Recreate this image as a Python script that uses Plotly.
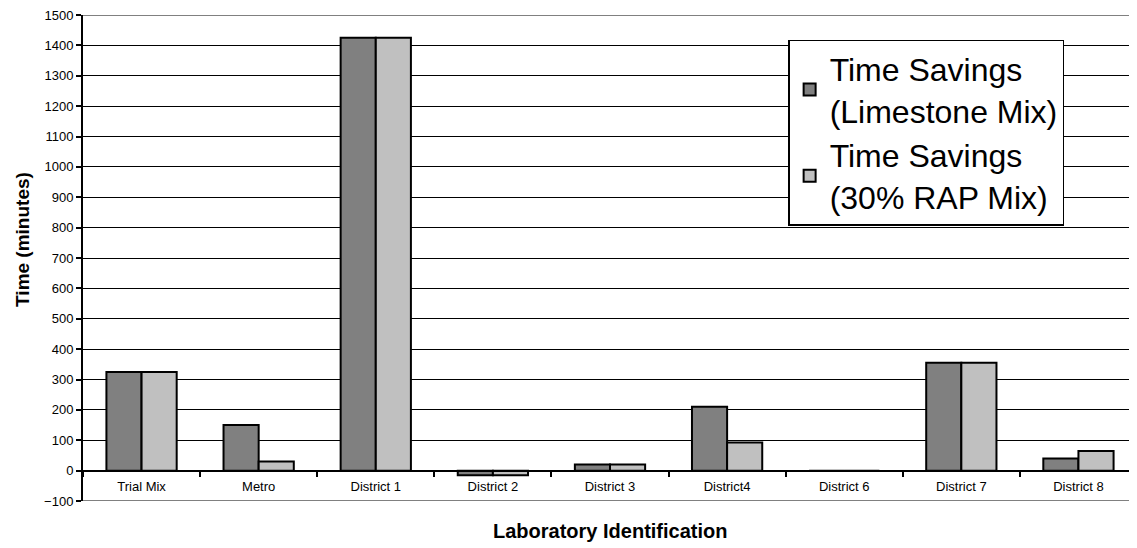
import plotly.graph_objects as go

categories = ["Trial Mix", "Metro", "District 1", "District 2", "District 3",
              "District4", "District 6", "District 7", "District 8"]
limestone = [325, 150, 1425, -15, 20, 210, 0, 355, 40]
rap30 = [325, 30, 1425, -15, 20, 93, 0, 355, 65]
y_ticks = list(range(-100, 1501, 100))

FONT = "Arial, Liberation Sans, sans-serif"

fig = go.Figure()
fig.add_trace(go.Bar(
    x=categories, y=limestone,
    name="Time Savings<br>(Limestone Mix)",
    marker=dict(color="#808080", line=dict(color="black", width=2)),
))
fig.add_trace(go.Bar(
    x=categories, y=rap30,
    name="Time Savings<br>(30% RAP Mix)",
    marker=dict(color="#C0C0C0", line=dict(color="black", width=2)),
))

fig.update_layout(
    width=1129, height=540,
    margin=dict(l=75, r=0, t=7, b=47),
    paper_bgcolor="white", plot_bgcolor="white",
    font=dict(family=FONT, color="black", size=13),
    barmode="group", bargap=0.40, bargroupgap=0,
    showlegend=True,
    legend=dict(
        x=0.669, y=0.9486, xanchor="left", yanchor="top",
        bgcolor="white", bordercolor="black", borderwidth=1.5,
        font=dict(size=32, family=FONT, color="black"),
        tracegroupgap=4,
    ),
    xaxis=dict(
        type="category", range=[-0.5, 8.5],
        anchor="free", position=0.0625,
        showline=True, linecolor="black", linewidth=2,
        ticks="outside", tickson="boundaries", ticklen=5,
        tickcolor="black", tickwidth=2,
        showgrid=False, ticklabelstandoff=4,
        tickfont=dict(size=13, family=FONT, color="black"),
    ),
    yaxis=dict(
        range=[-100, 1500], tickvals=y_ticks,
        showgrid=True, gridcolor="black", gridwidth=1,
        showline=True, linecolor="black", linewidth=2,
        ticks="outside", ticklen=5, tickcolor="black", tickwidth=2,
        zeroline=False, ticklabeloverflow="allow",
        tickfont=dict(size=13, family=FONT, color="black"),
    ),
    shapes=[
        dict(type="line", xref="paper", yref="y", x0=0, x1=1, y0=1500, y1=1500,
             line=dict(color="#808080", width=2), layer="above"),
        dict(type="line", xref="paper", yref="y", x0=0, x1=1, y0=-100, y1=-100,
             line=dict(color="#808080", width=2), layer="above"),
    ],
    annotations=[
        dict(text="<b>Laboratory Identification</b>", xref="paper", yref="paper",
             x=0.5, y=-0.0617, xanchor="center", yanchor="middle", showarrow=False,
             font=dict(size=20, family=FONT, color="black")),
        dict(text="<b>Time (minutes)</b>", xref="paper", yref="paper",
             x=-0.058, y=0.539, xanchor="center", yanchor="middle", showarrow=False,
             textangle=-90, font=dict(size=19, family=FONT, color="black")),
    ],
)

fig.write_html("out.html")
